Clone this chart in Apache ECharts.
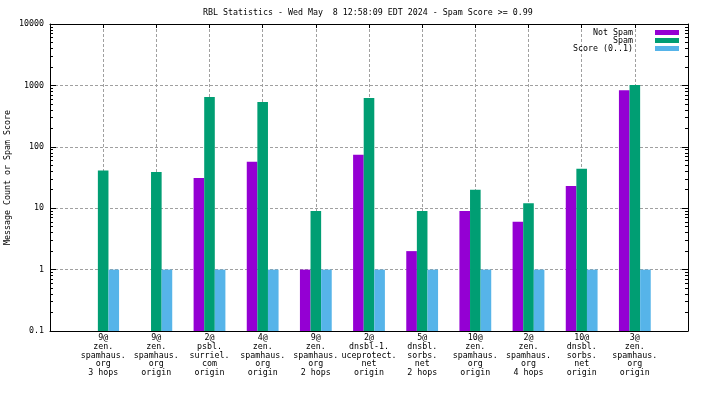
<!DOCTYPE html>
<html>
<head>
<meta charset="utf-8">
<script src="https://cdn.jsdelivr.net/npm/echarts@6/dist/echarts.min.js"></script>
<style>
  html, body { margin: 0; padding: 0; background: #fff; }
  #rbl-chart { width: 704px; height: 396px; }
</style>
</head>
<body>
<div id="rbl-chart"></div>
<script>
const categories = [
    '9@\nzen.\nspamhaus.\norg\n3 hops',
    '9@\nzen.\nspamhaus.\norg\norigin',
    '2@\npsbl.\nsurriel.\ncom\norigin',
    '4@\nzen.\nspamhaus.\norg\norigin',
    '9@\nzen.\nspamhaus.\norg\n2 hops',
    '2@\ndnsbl-1.\nuceprotect.\nnet\norigin',
    '5@\ndnsbl.\nsorbs.\nnet\n2 hops',
    '10@\nzen.\nspamhaus.\norg\norigin',
    '2@\nzen.\nspamhaus.\norg\n4 hops',
    '10@\ndnsbl.\nsorbs.\nnet\norigin',
    '3@\nzen.\nspamhaus.\norg\norigin'
];
const notSpam = [null, null, 31, 57, 1, 74, 2, 9, 6, 23, 837];
const spam = [41, 39, 646, 536, 9, 622, 9, 20, 12, 44, 1018];
const score = [1, 1, 1, 1, 1, 1, 1, 1, 1, 1, 1];
const yDecades = [0.1, 1, 10, 100, 1000, 10000];

const FONT = 'DejaVu Sans Mono';
const FS = 8.3;

// gnuplot style minor ticks at 2..9 of each decade
const minorTicks = [];
yDecades.slice(0, -1).forEach(function (d) {
    for (let k = 2; k <= 9; k++) minorTicks.push(+(d * k).toPrecision(3));
});

const chart = echarts.init(document.getElementById('rbl-chart'), null, { renderer: 'canvas' });

function pairs(arr) {
    return arr.map(function (v, i) { return [i, v]; });
}

const gridDash = { color: '#a0a0a0', width: 1, type: [3, 2] };
const frame = { show: true, onZero: false, lineStyle: { color: '#000', width: 1 } };
const noLine = { show: false, onZero: false };

function legendRow(name, top) {
    return {
        data: [name],
        right: 25,
        top: top,
        padding: 0,
        align: 'right',
        itemWidth: 24,
        itemHeight: 5,
        icon: 'rect',
        selectedMode: false,
        textStyle: { fontFamily: FONT, fontSize: FS, color: '#000', padding: [0, 17, 0, 0] }
    };
}

const option = {
    animation: false,
    backgroundColor: '#fff',
    textStyle: { fontFamily: FONT, fontSize: FS, color: '#000' },
    title: {
        text: 'RBL Statistics - Wed May  8 12:58:09 EDT 2024 - Spam Score >= 0.99',
        left: 203,
        top: 9,
        padding: 0,
        textStyle: { fontFamily: FONT, fontSize: FS, fontWeight: 'normal', color: '#000' }
    },
    legend: [
        legendRow('Not Spam', 28.5),
        legendRow('Spam', 36.5),
        legendRow('Score (0..1)', 44.5)
    ],
    grid: { left: 50, right: 16, top: 24, bottom: 65, containLabel: false, outerBoundsMode: 'none' },
    xAxis: [{
        type: 'value',
        min: -1,
        max: 11,
        interval: 1,
        position: 'bottom',
        axisLine: frame,
        axisTick: { show: true, inside: true, length: 4, lineStyle: { color: '#000' } },
        splitLine: { show: true, lineStyle: gridDash },
        axisLabel: {
            margin: 3,
            fontFamily: FONT,
            fontSize: FS,
            lineHeight: 8.6,
            color: '#000',
            verticalAlign: 'top',
            formatter: function (v) { return categories[v] || ''; }
        }
    }, {
        type: 'value',
        min: -1,
        max: 11,
        interval: 1,
        position: 'top',
        axisLine: frame,
        axisTick: { show: true, inside: true, length: 4, lineStyle: { color: '#000' } },
        splitLine: { show: false },
        axisLabel: { show: false }
    }],
    yAxis: [{
        type: 'log',
        logBase: 10,
        min: 0.1,
        max: 10000,
        startValue: 0.1,
        position: 'left',
        name: 'Message Count or Spam Score',
        nameLocation: 'middle',
        nameGap: 38,
        nameRotate: 90,
        nameMoveOverlap: false,
        nameTextStyle: { fontFamily: FONT, fontSize: FS, color: '#000' },
        axisLine: frame,
        axisTick: { show: true, inside: true, length: 6, lineStyle: { color: '#000' } },
        splitLine: { show: true, lineStyle: gridDash },
        axisLabel: {
            margin: 6,
            fontFamily: FONT,
            fontSize: FS,
            color: '#000',
            formatter: function (v) { return String(+v.toPrecision(3)); }
        }
    }, {
        type: 'log',
        min: 0.1,
        max: 10000,
        position: 'left',
        axisLine: noLine,
        axisTick: { show: true, inside: true, length: 3, customValues: minorTicks, lineStyle: { color: '#000' } },
        splitLine: { show: false },
        axisLabel: { show: false }
    }, {
        type: 'log',
        min: 0.1,
        max: 10000,
        position: 'right',
        axisLine: frame,
        axisTick: { show: true, inside: true, length: 6, lineStyle: { color: '#000' } },
        splitLine: { show: false },
        axisLabel: { show: false }
    }, {
        type: 'log',
        min: 0.1,
        max: 10000,
        position: 'right',
        axisLine: noLine,
        axisTick: { show: true, inside: true, length: 3, customValues: minorTicks, lineStyle: { color: '#000' } },
        splitLine: { show: false },
        axisLabel: { show: false }
    }],
    series: [{
        name: 'Not Spam',
        type: 'bar',
        barWidth: 10.6,
        barGap: '0%',
        itemStyle: { color: '#9400d3' },
        data: pairs(notSpam)
    }, {
        name: 'Spam',
        type: 'bar',
        barWidth: 10.6,
        barGap: '0%',
        itemStyle: { color: '#009e73' },
        data: pairs(spam)
    }, {
        name: 'Score (0..1)',
        type: 'bar',
        barWidth: 10.6,
        barGap: '0%',
        itemStyle: { color: '#56b4e9' },
        data: pairs(score)
    }]
};

chart.setOption(option);
</script>
</body>
</html>
